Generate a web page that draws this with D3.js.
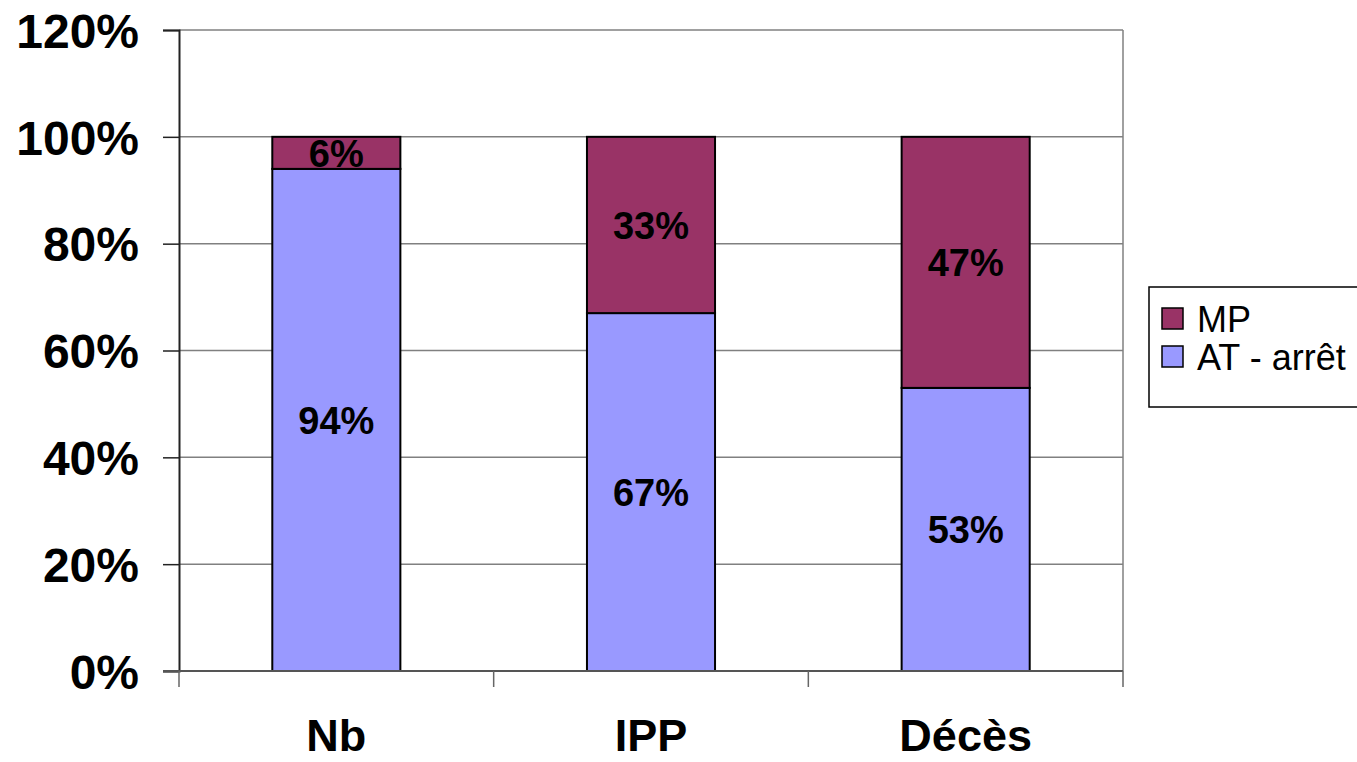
<!DOCTYPE html>
<html>
<head>
<meta charset="utf-8">
<script src="https://cdn.jsdelivr.net/npm/d3@7"></script>
<style>
  html, body { margin: 0; padding: 0; background: #fff; }
  svg { display: block; font-family: "Liberation Sans", Arial, sans-serif; }
</style>
</head>
<body>
<svg id="chart" width="1357" height="762"></svg>
<script>
// Share of each category (percent)
const categories = ["Nb", "IPP", "Décès"];
const atArret = [94, 67, 53];
const mp = [6, 33, 47];
const seriesNames = ["AT - arrêt", "MP"];
const seriesColors = ["#9999FF", "#993366"];
const yTicks = [0, 20, 40, 60, 80, 100, 120];

(function () {
const svg = d3.select("#chart");
const plotLeft = 179, plotRight = 1123, plotTop = 30, plotBottom = 671;

const x = d3.scaleBand().domain(categories).range([plotLeft, plotRight]).paddingInner(0.593).paddingOuter(0.2965);
const y = d3.scaleLinear().domain([0, 120]).range([plotBottom, plotTop]);

// Gridlines
svg.append("g").selectAll("line").data(yTicks.filter(d => d > 0)).join("line")
  .attr("x1", plotLeft).attr("x2", plotRight)
  .attr("y1", d => y(d)).attr("y2", d => y(d))
  .attr("stroke", "#808080").attr("stroke-width", 1.5);

// Right frame edge
svg.append("line").attr("x1", plotRight).attr("x2", plotRight).attr("y1", plotTop).attr("y2", plotBottom)
  .attr("stroke", "#808080").attr("stroke-width", 1.5);

// Stacked bars
const rows = categories.map((c, i) => ({ cat: c, "AT - arrêt": atArret[i], "MP": mp[i] }));
const stack = d3.stack().keys(seriesNames)(rows);
const layers = svg.append("g").selectAll("g").data(stack).join("g")
  .attr("fill", (d, i) => seriesColors[i]);
layers.selectAll("rect").data(d => d).join("rect")
  .attr("x", d => x(d.data.cat))
  .attr("width", x.bandwidth())
  .attr("y", d => y(d[1]))
  .attr("height", d => y(d[0]) - y(d[1]))
  .attr("stroke", "#000").attr("stroke-width", 2);

// Value labels
stack.forEach(layer => {
  svg.append("g").selectAll("text").data(layer).join("text")
    .attr("x", d => x(d.data.cat) + x.bandwidth() / 2)
    .attr("y", d => (y(d[0]) + y(d[1])) / 2)
    .attr("dy", "0.36em")
    .attr("text-anchor", "middle")
    .attr("font-size", 38).attr("font-weight", "bold").attr("fill", "#000")
    .text(d => (d[1] - d[0]) + "%");
});

// Y axis
const yAxis = svg.append("g").attr("transform", `translate(${plotLeft},0)`)
  .call(d3.axisLeft(y).tickValues(yTicks).tickSize(16).tickPadding(24).tickFormat(d => d + "%"));
yAxis.select(".domain").attr("stroke", "#222").attr("stroke-width", 2);
yAxis.selectAll(".tick line").attr("stroke", "#222").attr("stroke-width", 1.5);
yAxis.selectAll(".tick text").attr("font-size", 48).attr("font-weight", "bold")
  .attr("fill", "#000").attr("font-family", "Liberation Sans, Arial, sans-serif").attr("dy", "0.36em");

// X axis
const edges = [plotLeft, ...categories.map((c, i) => plotLeft + (plotRight - plotLeft) * (i + 1) / categories.length)];
svg.append("line").attr("x1", plotLeft - 16).attr("x2", plotRight).attr("y1", plotBottom).attr("y2", plotBottom)
  .attr("stroke", "#555").attr("stroke-width", 2);
svg.append("g").selectAll("line").data(edges).join("line")
  .attr("x1", d => d).attr("x2", d => d).attr("y1", plotBottom).attr("y2", plotBottom + 16)
  .attr("stroke", "#666").attr("stroke-width", 1.5);
svg.append("g").selectAll("text").data(categories).join("text")
  .attr("x", d => x(d) + x.bandwidth() / 2)
  .attr("y", 751)
  .attr("text-anchor", "middle")
  .attr("font-size", 45).attr("font-weight", "bold").attr("fill", "#000")
  .text(d => d);

// Legend
const legend = svg.append("g");
legend.append("rect").attr("x", 1149).attr("y", 287).attr("width", 220).attr("height", 120)
  .attr("fill", "#fff").attr("stroke", "#000").attr("stroke-width", 1.5);
const legendItems = [
  { name: seriesNames[1], color: seriesColors[1], yBase: 332 },
  { name: seriesNames[0], color: seriesColors[0], yBase: 370 }
];
legendItems.forEach(it => {
  legend.append("rect").attr("x", 1162).attr("y", it.yBase - 24).attr("width", 21).attr("height", 21)
    .attr("fill", it.color).attr("stroke", "#000").attr("stroke-width", 1.5);
  legend.append("text").attr("x", 1197).attr("y", it.yBase)
    .attr("font-size", 36).attr("fill", "#000").text(it.name);
});
})();
</script>
</body>
</html>
